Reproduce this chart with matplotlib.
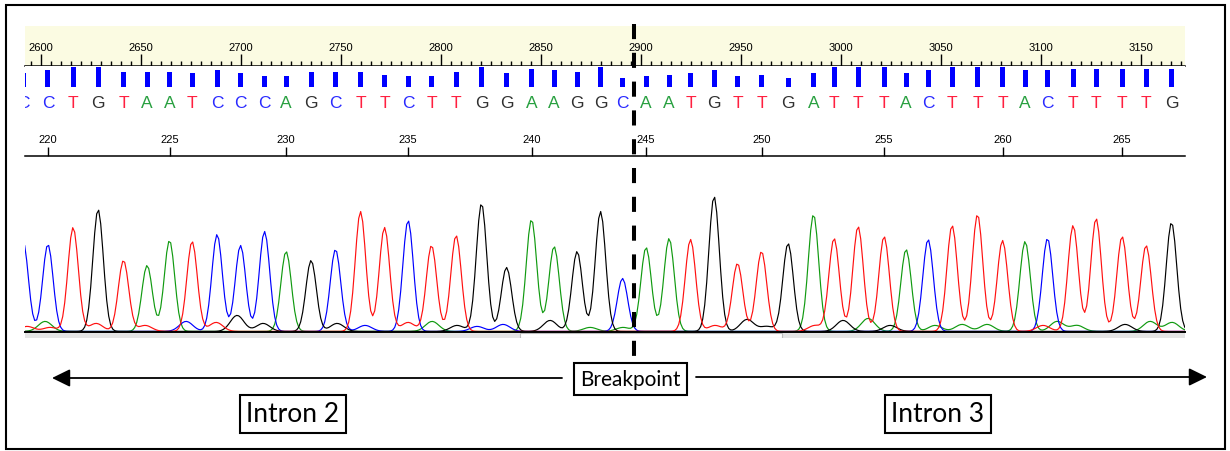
import numpy as np
import matplotlib
matplotlib.use('Agg')
import matplotlib.pyplot as plt
from matplotlib import transforms
from matplotlib.patches import Rectangle
from matplotlib.ticker import MultipleLocator

W, H = 1230, 452

# base calls; the first one is cut off at the left edge of the window
bases = list('C' + 'CTGTAATCCCAGCTTCTTGGAAGGCAATGTTGATTTACTTTACTTTTG')
first_base_no = 219
call_scan = [2591.2, 2603.6, 2616.2, 2628.7, 2641.4, 2653.2, 2664.4, 2675.7, 2688.2, 2699.9,
             2711.9, 2722.7, 2735.2, 2747.4, 2759.9, 2771.9, 2783.7, 2795.4, 2807.7, 2820.4,
             2832.9, 2845.4, 2856.7, 2868.2, 2879.9, 2890.9, 2902.7, 2914.2, 2924.9, 2936.7,
             2948.4, 2960.4, 2973.7, 2986.4, 2996.7, 3008.7, 3021.7, 3032.7, 3043.7, 3055.7,
             3068.4, 3080.9, 3092.2, 3103.4, 3116.2, 3127.7, 3140.7, 3152.7, 3165.4]
peak_height = [90, 87, 104, 122, 71, 66, 91, 90, 97, 86, 100, 80, 71, 82, 120, 104, 111,
               86, 96, 128, 64, 112, 85, 80, 120, 53, 84, 93, 92, 135, 68, 80, 88, 117,
               93, 105, 95, 82, 92, 106, 117, 91, 90, 93, 106, 113, 95, 86, 109]
quality = [14, 17, 20, 20, 15, 15, 15, 14, 17, 14, 11, 11, 15, 15, 15, 12, 11,
           11, 15, 20, 14, 18, 17, 15, 20, 9, 11, 12, 14, 17, 11, 12, 9, 14,
           20, 20, 20, 14, 17, 20, 20, 20, 17, 17, 18, 18, 18, 18, 18]

# small background peaks under the main calls
minor_scan = [2593.2, 2602.2, 2604.7, 2627.7, 2652.2, 2672.7, 2687.7, 2698.2, 2711.2, 2748.2,
              2762.2, 2783.7, 2795.7, 2808.2, 2818.2, 2831.2, 2854.7, 2874.7, 2891.2, 2937.2,
              2953.2, 2963.2, 2987.2, 3001.2, 3013.7, 3024.7, 3047.2, 3060.7, 3073.2, 3101.2,
              3108.2, 3118.2, 3142.2, 3154.7, 3165.7]
minor_base = ['T', 'A', 'T', 'T', 'T', 'C', 'T', 'G', 'G', 'G',
              'C', 'T', 'A', 'G', 'C', 'C', 'G', 'A', 'A', 'T',
              'G', 'G', 'T', 'G', 'A', 'G', 'A', 'A', 'A', 'T',
              'A', 'A', 'G', 'A', 'A']
minor_height = [5, 10, 4, 8, 6, 10, 9, 16, 8, 8,
                6, 9, 10, 6, 5, 7, 11, 4, 4, 6,
                12, 5, 6, 11, 13, 6, 6, 7, 7, 6,
                10, 6, 7, 10, 9]

ruler_major = list(range(2600, 3151, 50))
scan_lo, scan_hi = 2592.15, 3172.15
scroll_view = (2839.7, 2970.7)
breakpoint_after = 244

trace_col = {'A': '#109a10', 'C': '#0000ff', 'G': '#000000', 'T': '#ff1010'}
letter_col = {'A': '#28a040', 'C': '#2a2aff', 'G': '#303030', 'T': '#ff2040'}
peak_sigma = 2.6

fig = plt.figure(figsize=(W / 100, H / 100), dpi=100)
fig.patch.set_facecolor('white')


def px_axes(x0, y0, x1, y1):
    return fig.add_axes([x0 / W, 1 - y1 / H, (x1 - x0) / W, (y1 - y0) / H])


def bare(ax, keep_bottom=True):
    for s in ['top', 'left', 'right']:
        ax.spines[s].set_visible(False)
    ax.spines['bottom'].set_visible(keep_bottom)
    ax.set_yticks([])


# scan ruler
ax_top = px_axes(25, 27, 1185, 67)
ax_top.set_facecolor('#fbfbe2')
ax_top.set_xlim(scan_lo, scan_hi)
bare(ax_top)
ax_top.spines['bottom'].set_linewidth(1.1)
ax_top.set_xticks(ruler_major)
ax_top.xaxis.set_minor_locator(MultipleLocator(5))
ax_top.tick_params(axis='x', which='major', direction='in', length=8.6, width=1.0,
                   labelbottom=False)
ax_top.tick_params(axis='x', which='minor', direction='in', length=3.6, width=1.0)
tr_top = transforms.blended_transform_factory(ax_top.transData, ax_top.transAxes)
for v in ruler_major:
    ax_top.text(v, 0.47, str(v), transform=tr_top, ha='center', va='center',
                fontsize=8, family='Liberation Sans')

# quality bars, base letters and base-number ruler
ax_head = px_axes(25, 67, 1185, 157)
ax_head.set_xlim(scan_lo, scan_hi)
ax_head.set_ylim(90, 0)
bare(ax_head)
ax_head.spines['bottom'].set_linewidth(1.1)
ax_head.bar(call_scan, [-q for q in quality], bottom=21, width=2.5, color='#0000ff')
for x, b in zip(call_scan, bases):
    ax_head.text(x, 37, b, color=letter_col[b], ha='center', va='center',
                 fontsize=12.5, family='Liberation Sans', clip_on=True)
base_no = [first_base_no + i for i in range(len(bases))]
tick_pos = [x for x, n in zip(call_scan, base_no) if n % 5 == 0]
tick_lab = [n for n in base_no if n % 5 == 0]
ax_head.set_xticks(tick_pos)
ax_head.tick_params(axis='x', direction='in', length=6.5, width=1.0, labelbottom=False)
for x, n in zip(tick_pos, tick_lab):
    ax_head.text(x, 73, str(n), ha='center', va='center', fontsize=8,
                 family='Liberation Sans')

# chromatogram traces
ax_tr = px_axes(25, 160, 1185, 333)
ax_tr.set_xlim(scan_lo, scan_hi)
ax_tr.set_ylim(0, 173)
bare(ax_tr)
ax_tr.spines['bottom'].set_linewidth(1.4)
ax_tr.set_xticks([])
xs = np.arange(2586, 3180, 1.0)
for b in 'ACGT':
    y = np.zeros_like(xs)
    for x0, h, bb in zip(call_scan, peak_height, bases):
        if bb == b:
            y += h * np.exp(-0.5 * ((xs - x0) / peak_sigma) ** 2)
    for x0, h, bb in zip(minor_scan, minor_height, minor_base):
        if bb == b:
            y += h * np.exp(-0.5 * ((xs - x0) / (peak_sigma * 1.3)) ** 2)
    ax_tr.plot(xs, y + 0.6, color=trace_col[b], lw=0.85, clip_on=True)

# scroll strip under the traces
ax_sc = px_axes(25, 333.5, 1185, 338.5)
ax_sc.set_xlim(scan_lo, scan_hi)
ax_sc.set_facecolor('#e4e4e4')
bare(ax_sc, keep_bottom=False)
ax_sc.set_xticks([])
ax_sc.axvspan(*scroll_view, facecolor='white', edgecolor='#bdbdbd', lw=0.8)

# annotation layer
ax_an = fig.add_axes([0, 0, 1, 1])
ax_an.set_xlim(0, W)
ax_an.set_ylim(H, 0)
ax_an.axis('off')
ax_an.patch.set_visible(False)
ax_an.add_patch(Rectangle((6, 6), 1219, 444, fill=False, ec='black', lw=1.5))

i_bp = base_no.index(breakpoint_after)
bp_scan = (call_scan[i_bp] + call_scan[i_bp + 1]) / 2
tr_bp = transforms.blended_transform_factory(ax_tr.transData, ax_an.transData)
ax_an.plot([bp_scan, bp_scan], [25, 364], transform=tr_bp, color='black', lw=2.9,
           dashes=(3.75, 3.4), solid_capstyle='butt', dash_capstyle='butt')

arrow = dict(arrowstyle='-|>,head_length=0.55,head_width=0.27', mutation_scale=20,
             color='black', lw=1.3, shrinkA=0, shrinkB=0)
ax_an.annotate('', xy=(52, 379), xytext=(562, 379), arrowprops=arrow)
ax_an.annotate('', xy=(1207, 378), xytext=(696, 378), arrowprops=arrow)

ax_an.text(630, 380, 'Breakpoint', ha='center', va='center', fontsize=15,
           family='Lato',
           bbox=dict(boxstyle='square,pad=0.3', fc='white', ec='black', lw=1.5))
for x, lab in [(293, 'Intron 2'), (938, 'Intron 3')]:
    ax_an.text(x, 415, lab, ha='center', va='center', fontsize=19, family='Lato',
               bbox=dict(boxstyle='square,pad=0.24', fc='white', ec='black', lw=1.5))

fig.savefig('out.png', dpi=100)
